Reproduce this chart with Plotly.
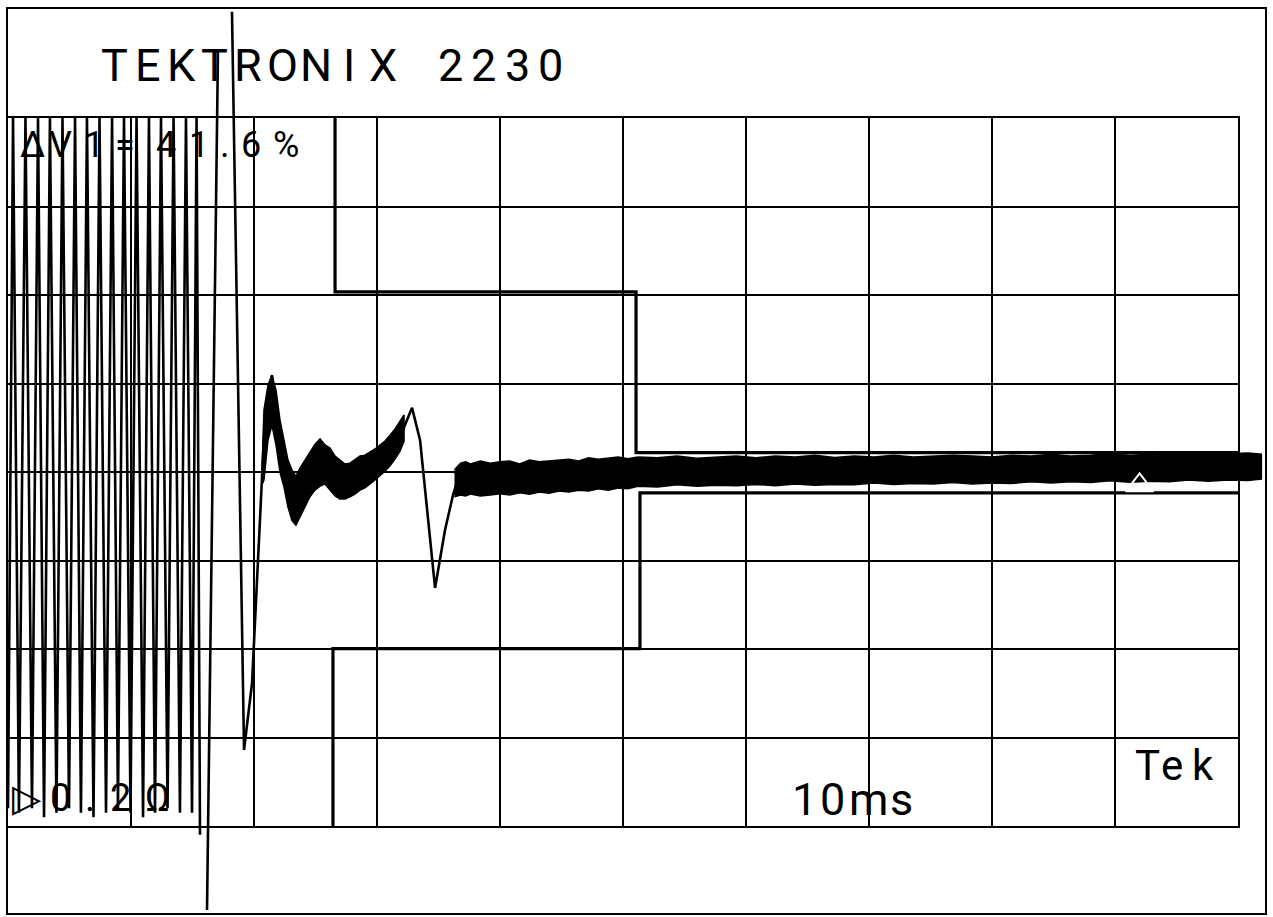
import plotly.graph_objects as go

# ---------------- data: time in ms (10 ms/div), amplitude in V (0.2 V/div) ----------------
# dense, aliased oscillation before the event (extremes of each stroke)
osc_t = [0.00, 0.41, 0.89, 1.42, 1.95, 2.44, 2.93, 3.41, 3.94, 4.43, 4.96, 5.45, 5.93, 6.42,
         6.95, 7.44, 7.97, 8.46, 8.94, 9.43, 9.96, 10.45, 10.98, 11.46, 11.95, 12.44, 12.97,
         13.46, 13.98, 14.47, 14.96, 15.33, 15.61]
osc_v = [-0.76, 0.80, -0.77, 0.80, -0.76, 0.80, -0.78, 0.80, -0.77, 0.80, -0.76, 0.80, -0.77, 0.80,
         -0.78, 0.80, -0.77, 0.80, -0.76, 0.80, -0.77, 0.80, -0.78, 0.80, -0.77, 0.80, -0.76,
         0.80, -0.77, 0.80, -0.77, 0.80, -0.82]

# transient swings and centre of the settled trace (None = trace leaves the screen)
swing_t = [15.90, 16.18, 17.07, 17.60, 18.21, 19.19, 19.84, 20.33, 20.65, 20.89, 21.46, 21.95,
           22.68, 23.33, 24.15, 24.96, 25.53, 26.59, 27.64, 28.62, 29.84, 31.06, 31.87, 32.85,
           33.50, 34.15, 34.72, 35.53, 36.18, 36.75, 37.56, 40.0, 44.0, 48.0, 52.0, 60.0, 70.0,
           80.0, 90.0, 101.9]
swing_v = [None, -0.99, 0.95, None, 1.04, -0.628, -0.477, -0.206, -0.025, 0.124, 0.219, 0.095,
           -0.025, -0.097, -0.041, 0.009, 0.038, -0.007, -0.023, -0.007, 0.016, 0.045, 0.079,
           0.145, 0.072, -0.108, -0.262, -0.131, -0.052, 0.0, -0.014, -0.018, -0.011, -0.005,
           0.0, 0.002, 0.005, 0.007, 0.009, 0.012]

# noise envelope, first ringing part
band1_t = [20.65, 20.81, 21.14, 21.46, 21.79, 22.11, 22.44, 22.76, 23.09, 23.41, 23.74, 24.15,
           24.55, 24.96, 25.37, 25.77, 26.18, 26.59, 26.99, 27.40, 27.80, 28.21, 28.62, 29.02,
           29.43, 29.84, 30.24, 30.65, 31.06, 31.46, 31.87, 32.20]
band1_hi = [0.005, 0.140, 0.197, 0.219, 0.185, 0.118, 0.072, 0.027, 0.005, -0.010, 0.009, 0.027,
            0.045, 0.063, 0.075, 0.061, 0.054, 0.036, 0.027, 0.018, 0.020, 0.027, 0.036, 0.038,
            0.045, 0.052, 0.061, 0.070, 0.083, 0.097, 0.115, 0.129]
band1_lo = [-0.029, -0.018, 0.072, 0.106, 0.061, 0.000, -0.034, -0.079, -0.110, -0.120, -0.099,
            -0.079, -0.056, -0.041, -0.032, -0.027, -0.041, -0.054, -0.061, -0.061, -0.056,
            -0.050, -0.041, -0.036, -0.027, -0.018, -0.009, 0.002, 0.014, 0.029, 0.047, 0.070]

# noise envelope, settled part
band2_t = [36.3, 36.8, 37.2, 37.6, 38.4, 39.2, 40.0, 40.8, 41.6, 42.4, 43.2, 44.0, 44.8, 45.6,
           46.4, 47.2, 48.0, 48.8, 49.6, 50.4, 51.2, 52.8, 54.4, 56.0, 57.6, 59.2, 60.8, 62.4,
           64.0, 65.6, 67.2, 68.8, 70.4, 72.0, 73.6, 75.2, 76.8, 78.4, 80.0, 81.6, 83.2, 84.8,
           86.4, 88.0, 89.6, 91.2, 92.8, 94.4, 96.0, 97.6, 99.2, 100.8, 101.9]
band2_hi = [0.005, 0.020, 0.023, 0.018, 0.025, 0.020, 0.023, 0.025, 0.018, 0.027, 0.023, 0.025,
            0.027, 0.029, 0.025, 0.032, 0.029, 0.032, 0.034, 0.030, 0.034, 0.032, 0.036, 0.031,
            0.034, 0.036, 0.032, 0.036, 0.034, 0.038, 0.033, 0.036, 0.034, 0.038, 0.034, 0.036,
            0.038, 0.036, 0.034, 0.038, 0.036, 0.040, 0.036, 0.038, 0.041, 0.038, 0.040, 0.042,
            0.039, 0.043, 0.041, 0.043, 0.040]
band2_lo = [-0.056, -0.052, -0.054, -0.050, -0.054, -0.052, -0.049, -0.052, -0.047, -0.050,
            -0.045, -0.048, -0.043, -0.045, -0.041, -0.043, -0.038, -0.041, -0.036, -0.038,
            -0.032, -0.034, -0.029, -0.032, -0.030, -0.031, -0.028, -0.031, -0.027, -0.030,
            -0.028, -0.029, -0.025, -0.028, -0.026, -0.027, -0.024, -0.027, -0.025, -0.026,
            -0.022, -0.025, -0.022, -0.024, -0.020, -0.023, -0.021, -0.022, -0.018, -0.021,
            -0.018, -0.019, -0.016]

# tolerance mask
mask_hi_t = [26.59, 26.59, 51.06, 51.06, 100.0]
mask_hi_v = [0.80, 0.407, 0.407, 0.044, 0.044]
mask_lo_t = [26.42, 26.42, 51.38, 51.38, 100.0]
mask_lo_v = [-0.80, -0.399, -0.399, -0.047, -0.047]

# trigger-position marker
trig_t = [92.0]
trig_v = [-0.030]

# readout texts
title_text = "TEKTRONIX 2230"
dv_text = "ΔV1=41.6%"
scale_text = "▷0.2Ω"
time_text = "10ms"
brand_text = "Tek"

# ---------------- layout geometry (pixels) ----------------
W, H = 1273, 917
GL, GT, GR, GB = 8, 118, 1238, 826      # graticule
OL, OT, OR, OB = 8, 9, 1265, 913        # outer frame
XR = [0, 100]
YR = [-0.8, 0.8]
mspp = (XR[1] - XR[0]) / (GR - GL)
vpp = (YR[1] - YR[0]) / (GB - GT)
X2R = [XR[0] - (GL - OL) * mspp, XR[1] + (OR - GR) * mspp]
Y2R = [YR[0] - (OB - GB) * vpp, YR[1] + (GT - OT) * vpp]

INK = "black"
FONT = "Roboto, DejaVu Sans, sans-serif"

fig = go.Figure()

# mask (on graticule axes)
for tx, vy in ((mask_hi_t, mask_hi_v), (mask_lo_t, mask_lo_v)):
    fig.add_trace(go.Scatter(x=tx, y=vy, mode="lines", xaxis="x", yaxis="y",
                             line=dict(color=INK, width=3.2), hoverinfo="skip"))

# noise bands (on frame axes so the trace may leave the graticule)
for bt, bh, bl in ((band1_t, band1_hi, band1_lo), (band2_t, band2_hi, band2_lo)):
    fig.add_trace(go.Scatter(x=bt + bt[::-1], y=bh + bl[::-1], mode="lines", fill="toself",
                             fillcolor=INK, xaxis="x2", yaxis="y2",
                             line=dict(color=INK, width=1.5), hoverinfo="skip"))

# main trace
fig.add_trace(go.Scatter(x=osc_t + swing_t, y=osc_v + swing_v, mode="lines",
                         xaxis="x2", yaxis="y2", connectgaps=False,
                         line=dict(color=INK, width=2.6), hoverinfo="skip"))

# trigger marker
fig.add_trace(go.Scatter(x=trig_t, y=trig_v, mode="markers", xaxis="x2", yaxis="y2",
                         marker=dict(symbol="triangle-up-open", size=24, color="white",
                                     line=dict(color="white", width=2)), hoverinfo="skip"))

ann = []


def put_chars(text, centers, yc, size):
    for ch, cx in zip(text, centers):
        if ch == " ":
            continue
        ann.append(dict(text=ch, x=cx / W, y=1 - yc / H, xref="paper", yref="paper",
                        xanchor="center", yanchor="middle", showarrow=False,
                        font=dict(family=FONT, size=size, color=INK, weight=400)))


put_chars(title_text, [114 + 33.6 * i for i in range(len(title_text))], 66, 45)
put_chars(dv_text, [32, 60, 94, 125, 166, 199, 225, 251, 286], 145, 36)
put_chars(scale_text, [27, 60, 90, 120, 157], 798, 38)
put_chars(time_text, [804, 832, 868, 901], 799, 45)
put_chars(brand_text, [1147, 1172, 1203], 765, 42)

axis_common = dict(showticklabels=False, ticks="", zeroline=False, fixedrange=True,
                   showline=True, mirror=True, linecolor=INK, linewidth=2)

fig.update_layout(
    width=W, height=H, autosize=False,
    margin=dict(l=0, r=0, t=0, b=0, pad=0),
    paper_bgcolor="white", plot_bgcolor="rgba(0,0,0,0)",
    showlegend=False,
    xaxis=dict(domain=[GL / W, GR / W], range=XR, anchor="y", tick0=0, dtick=10,
               showgrid=True, gridcolor=INK, gridwidth=2, **axis_common),
    yaxis=dict(domain=[1 - GB / H, 1 - GT / H], range=YR, anchor="x", tick0=0, dtick=0.2,
               showgrid=True, gridcolor=INK, gridwidth=2, **axis_common),
    xaxis2=dict(domain=[OL / W, OR / W], range=X2R, anchor="y2", showgrid=False, **axis_common),
    yaxis2=dict(domain=[1 - OB / H, 1 - OT / H], range=Y2R, anchor="x2", showgrid=False,
                **axis_common),
    annotations=ann,
)

fig.write_html("out.html")
